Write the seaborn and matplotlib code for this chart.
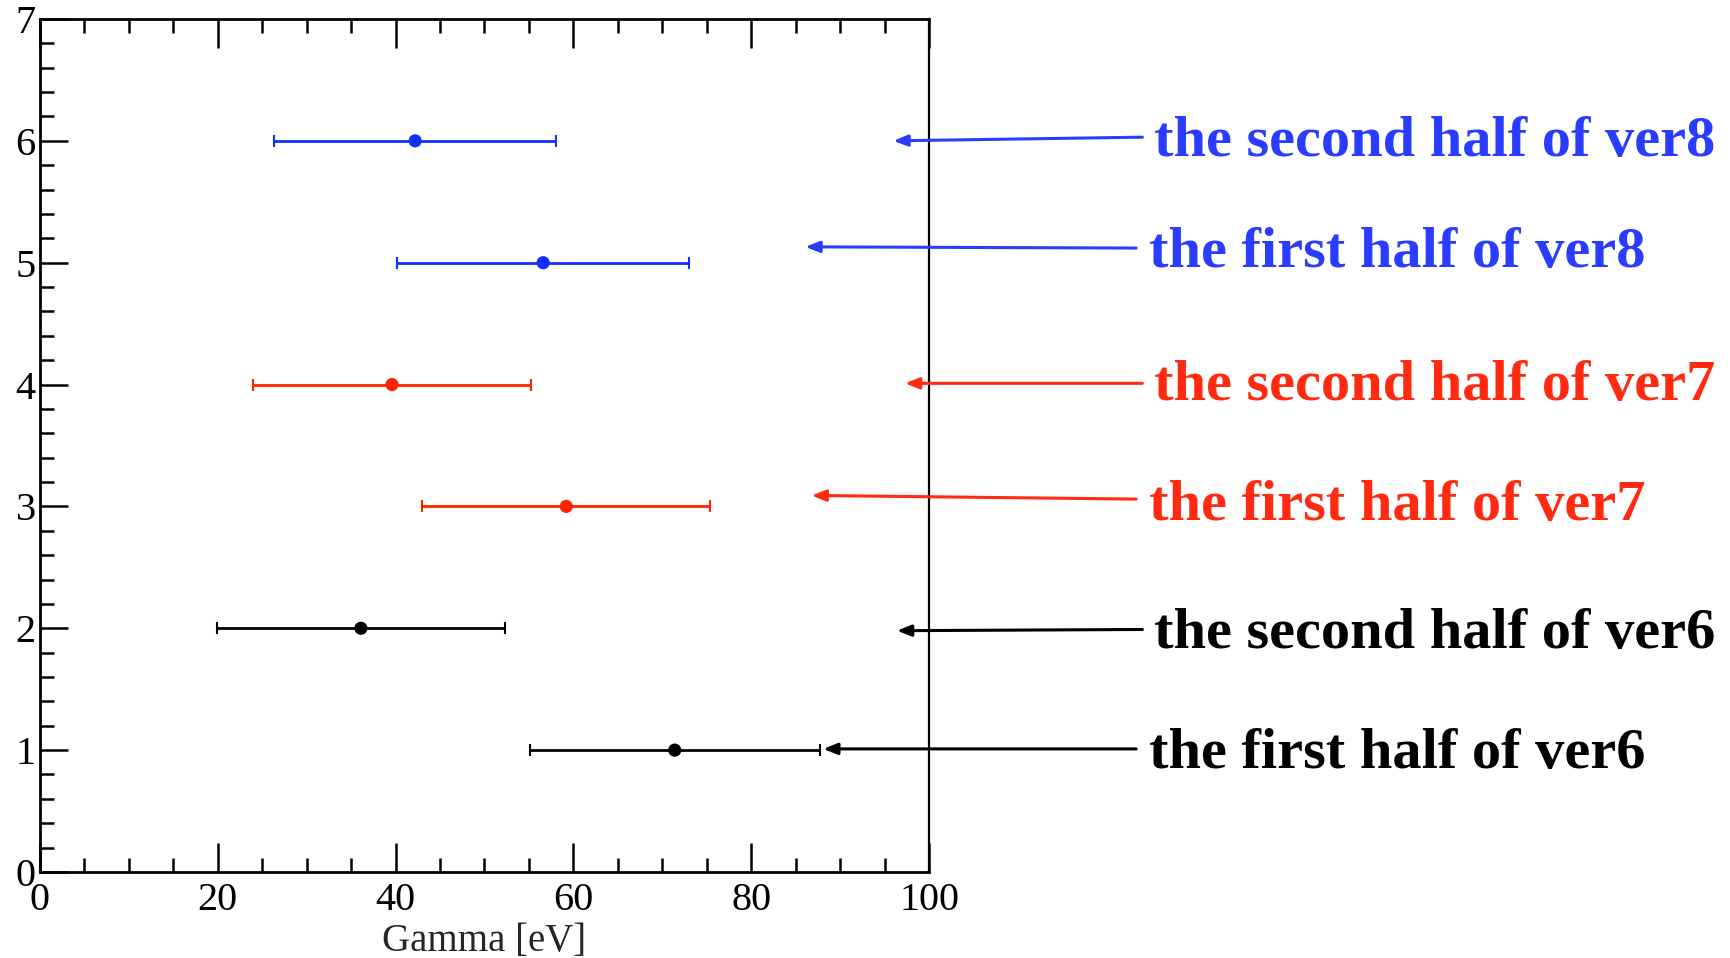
import matplotlib
matplotlib.use("Agg")
import matplotlib.pyplot as plt
import seaborn as sns
import numpy as np
import pandas as pd
from matplotlib.ticker import MultipleLocator

# ---- data ----
rows = [1, 2, 3, 4, 5, 6]
gamma = [71.4, 36.1, 59.2, 39.6, 56.6, 42.2]
gamma_err = [16.3, 16.2, 16.2, 15.6, 16.4, 15.9]
groups = ["ver6", "ver6", "ver7", "ver7", "ver8", "ver8"]
labels = ["the first half of ver6", "the second half of ver6",
          "the first half of ver7", "the second half of ver7",
          "the first half of ver8", "the second half of ver8"]
# arrow tail / head x (data units) and y
arrow_tail_x = [123.3, 124.0, 123.3, 124.0, 123.3, 124.0]
arrow_head_x = [88.1, 96.4, 86.8, 97.3, 86.1, 96.0]
arrow_tail_y = [1.01, 1.99, 3.06, 4.01, 5.12, 6.03]
arrow_head_y = [1.01, 1.98, 3.09, 4.01, 5.13, 6.00]
text_x = [124.8, 125.3, 124.8, 125.3, 124.8, 125.3]
text_y = [0.97, 1.95, 3.00, 3.99, 5.08, 5.99]

palette = {"ver6": "#000000", "ver7": "#ff2200", "ver8": "#1030ff"}
text_colors = {"ver6": "#000000", "ver7": "#ff2a10", "ver8": "#2a3cff"}

df = pd.DataFrame({"row": rows, "gamma": gamma, "err": gamma_err, "group": groups})

sns.set_theme(style="white")
plt.rcParams["font.family"] = ["Liberation Serif", "DejaVu Serif"]

fig = plt.figure(figsize=(17.3, 9.58), dpi=100)
ax = fig.add_axes([0.0231, 0.0898, 0.5139, 0.8904])

for g, sub in df.groupby("group"):
    ax.errorbar(sub["gamma"], sub["row"], xerr=sub["err"], fmt="none",
                ecolor=palette[g], elinewidth=2.0, capsize=4, capthick=1.5, zorder=2)
sns.scatterplot(data=df, x="gamma", y="row", hue="group", palette=palette,
                s=90, edgecolor="none", legend=False, ax=ax, zorder=3)

ax.set_xlim(0, 100)
ax.set_ylim(0, 7)
ax.set_xlabel("Gamma [eV]", fontsize=28, labelpad=3)
ax.set_ylabel("")

ax.xaxis.set_major_locator(MultipleLocator(20))
ax.xaxis.set_minor_locator(MultipleLocator(5))
ax.yaxis.set_major_locator(MultipleLocator(1))
ax.yaxis.set_minor_locator(MultipleLocator(0.2))
ax.tick_params(axis="both", which="both", direction="in", colors="black",
               labelsize=29, width=1.8)
ax.tick_params(axis="x", which="major", length=21, top=True, bottom=True, pad=7)
ax.tick_params(axis="x", which="minor", length=10, top=True, bottom=True)
ax.tick_params(axis="y", which="major", length=20, left=True, right=False, pad=3)
ax.tick_params(axis="y", which="minor", length=10, left=True, right=False)

for sp in ax.spines.values():
    sp.set_visible(True)
    sp.set_color("black")
    sp.set_linewidth(2.0)
ax.spines["right"].set_linewidth(1.6)

for i in range(len(rows)):
    col = text_colors[groups[i]]
    ax.annotate("", xy=(arrow_head_x[i], arrow_head_y[i]),
                xytext=(arrow_tail_x[i], arrow_tail_y[i]),
                xycoords="data", textcoords="data", annotation_clip=False,
                arrowprops=dict(arrowstyle="-|>,head_length=0.7,head_width=0.28",
                                color=col, lw=2.2, shrinkA=0, shrinkB=0))
    ax.text(text_x[i], text_y[i], labels[i], color=col, fontsize=42,
            fontweight="bold", ha="left", va="center", clip_on=False)

fig.savefig("out.png", dpi=100, facecolor="white")
